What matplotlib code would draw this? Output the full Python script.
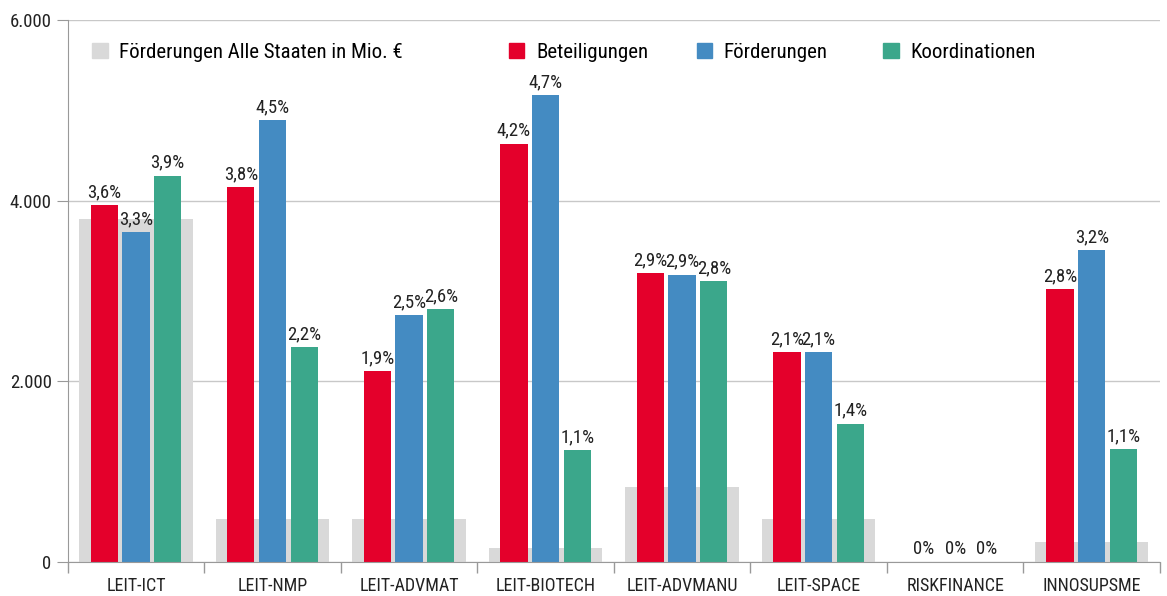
import numpy as np
import matplotlib.pyplot as plt
from matplotlib.patches import Patch
from matplotlib.ticker import FuncFormatter
from matplotlib import font_manager

names = {f.name for f in font_manager.fontManager.ttflist}
narrow = [n for n in ['Roboto Condensed', 'Liberation Sans Narrow'] if n in names]
plt.rcParams['font.family'] = narrow + ['Roboto', 'DejaVu Sans']

categories = ['LEIT-ICT', 'LEIT-NMP', 'LEIT-ADVMAT', 'LEIT-BIOTECH',
              'LEIT-ADVMANU', 'LEIT-SPACE', 'RISKFINANCE', 'INNOSUPSME']

alle_staaten = [3800, 480, 480, 155, 830, 480, 0, 220]
beteiligungen = [3950, 4150, 2115, 4630, 3200, 2325, 0, 3020]
foerderungen = [3650, 4895, 2735, 5170, 3180, 2325, 0, 3455]
koordinationen = [4275, 2380, 2800, 1240, 3110, 1530, 0, 1250]

lab_bet = ['3,6%', '3,8%', '1,9%', '4,2%', '2,9%', '2,1%', '0%', '2,8%']
lab_foe = ['3,3%', '4,5%', '2,5%', '4,7%', '2,9%', '2,1%', '0%', '3,2%']
lab_koo = ['3,9%', '2,2%', '2,6%', '1,1%', '2,8%', '1,4%', '0%', '1,1%']

c_gray = '#d9d9d9'
c_red = '#e4002b'
c_blue = '#448bc2'
c_green = '#3ba78b'

fig = plt.figure(figsize=(11.67, 5.96), dpi=100)
ax = fig.add_axes([0.058, 0.057, 0.936, 0.909])

x = np.arange(len(categories))
w = 0.2
step = 0.232

ax.bar(x, alle_staaten, width=0.83, color=c_gray, zorder=1)
series = [(beteiligungen, lab_bet, c_red, -step),
          (foerderungen, lab_foe, c_blue, 0),
          (koordinationen, lab_koo, c_green, step)]
for vals, labs, col, off in series:
    bars = ax.bar(x + off, vals, width=w, color=col, zorder=2)
    ax.bar_label(bars, labels=labs, padding=3, fontsize=13.5, color='#222222')

ax.set_xlim(-0.5, len(categories) - 0.5)
ax.set_ylim(0, 6000)
ax.set_yticks([0, 2000, 4000, 6000])
ax.yaxis.set_major_formatter(FuncFormatter(lambda v, p: f'{int(v):,}'.replace(',', '.')))
ax.grid(axis='y', color='#c8c8c8', linewidth=1, zorder=0)
ax.set_axisbelow(True)

ax.set_xticks(x)
ax.set_xticklabels(categories)
ax.set_xticks(np.arange(-0.5, len(categories)), minor=True)
ax.tick_params(axis='x', which='major', length=0, pad=11, labelsize=13, colors='#222222')
ax.tick_params(axis='x', which='minor', length=8, color='#999999', width=1)
ax.tick_params(axis='y', length=8, color='#999999', labelcolor='#222222', labelsize=13.5)

for s in ['top', 'right']:
    ax.spines[s].set_visible(False)
for s in ['left', 'bottom']:
    ax.spines[s].set_color('#999999')

legend_items = [('Förderungen Alle Staaten in Mio. €', c_gray, 0.079),
                ('Beteiligungen', c_red, 0.436),
                ('Förderungen', c_blue, 0.597),
                ('Koordinationen', c_green, 0.757)]
for text, col, xpos in legend_items:
    leg = fig.legend(handles=[Patch(color=col)], labels=[text], loc='center left',
                     bbox_to_anchor=(xpos, 0.912), frameon=False, fontsize=15,
                     handlelength=0.75, handleheight=0.75, handletextpad=0.55,
                     borderpad=0, borderaxespad=0)

fig.savefig('out.png', dpi=100)
